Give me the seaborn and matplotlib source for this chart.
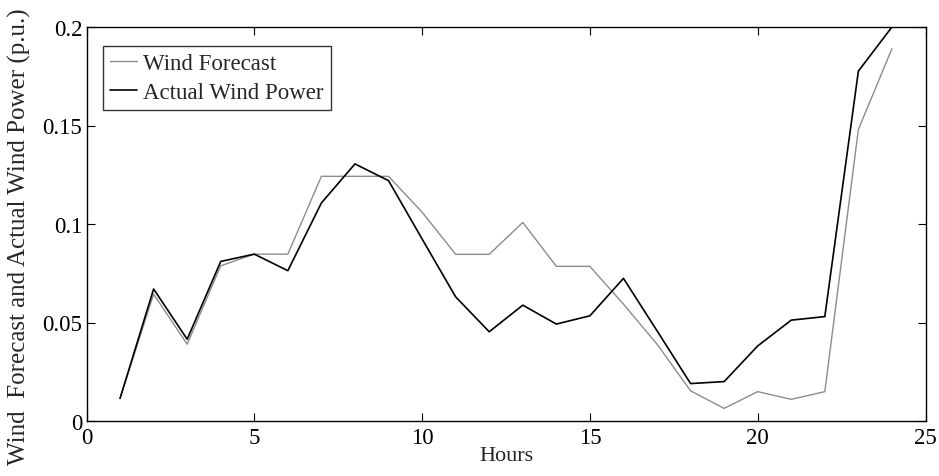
import numpy as np
import pandas as pd
import matplotlib
matplotlib.use("Agg")
import matplotlib.pyplot as plt
import seaborn as sns

hours = list(range(1, 25))
wind_forecast = [0.0115, 0.0644, 0.039, 0.0788, 0.0847, 0.0847, 0.1242, 0.1242,
                 0.1242, 0.106, 0.0846, 0.0846, 0.1008, 0.0785, 0.0785, 0.0593,
                 0.039, 0.0153, 0.0064, 0.0149, 0.011, 0.0149, 0.148, 0.189]
actual_wind = [0.0115, 0.067, 0.0415, 0.081, 0.0847, 0.0763, 0.1107, 0.1305,
               0.122, 0.0924, 0.063, 0.0453, 0.0588, 0.0492, 0.0534, 0.0724,
               0.0458, 0.019, 0.020, 0.0381, 0.0512, 0.053, 0.1776, 0.2]
series_names = ["Wind Forecast", "Actual Wind Power"]
xticks = [0, 5, 10, 15, 20, 25]
yticks = [0, 0.05, 0.1, 0.15, 0.2]
ytick_labels = ["0", "0.05", "0.1", "0.15", "0.2"]

df = pd.DataFrame({
    "Hours": hours * 2,
    "Value": wind_forecast + actual_wind,
    "Series": [series_names[0]] * len(hours) + [series_names[1]] * len(hours),
})

sns.set_style("white")
plt.rcParams["font.family"] = ["Liberation Serif", "DejaVu Serif"]

fig = plt.figure(figsize=(9.39, 4.77), dpi=100)
ax = fig.add_axes([86.5 / 939, 1 - 422 / 477, (925.5 - 86.5) / 939, (422 - 28) / 477])

sns.lineplot(data=df, x="Hours", y="Value", hue="Series",
             palette={series_names[0]: "#8c8c8c", series_names[1]: "#000000"},
             ax=ax, legend=True, estimator=None)
for line, lw in zip(ax.lines, [1.0, 1.2]):
    line.set_linewidth(lw)

ax.set_xlim(0, 25)
ax.set_ylim(0, 0.2)
ax.set_xticks(xticks)
ax.set_xticklabels([str(t) for t in xticks])
ax.set_yticks(yticks)
ax.set_yticklabels(ytick_labels)
ax.tick_params(direction="in", length=6, width=0.8, top=True, right=True,
               bottom=True, left=True, labelsize=16.5, colors="black")
ax.tick_params(axis="x", pad=4)
ax.tick_params(axis="y", pad=3)
for s in ax.spines.values():
    s.set_visible(True)
    s.set_color("black")
    s.set_linewidth(1.0)

ax.set_xlabel("Hours", fontsize=16, labelpad=-1)
ax.set_ylabel("Wind  Forecast and Actual Wind Power (p.u.)", fontsize=18)
ax.yaxis.set_label_coords(-0.066, 0.47)

handles, labels = ax.get_legend_handles_labels()
for h, lw in zip(handles, [1.0, 1.2]):
    h.set_linewidth(lw)
leg = ax.legend(handles, labels, loc="upper left", bbox_to_anchor=(0.0197, 0.952),
                borderaxespad=0, fontsize=16.5, frameon=True, fancybox=False,
                edgecolor="black", handlelength=1.2, handletextpad=0.25,
                labelspacing=0.35, borderpad=0.3)
leg.get_frame().set_linewidth(1.0)

fig.savefig("out.png", dpi=100)
